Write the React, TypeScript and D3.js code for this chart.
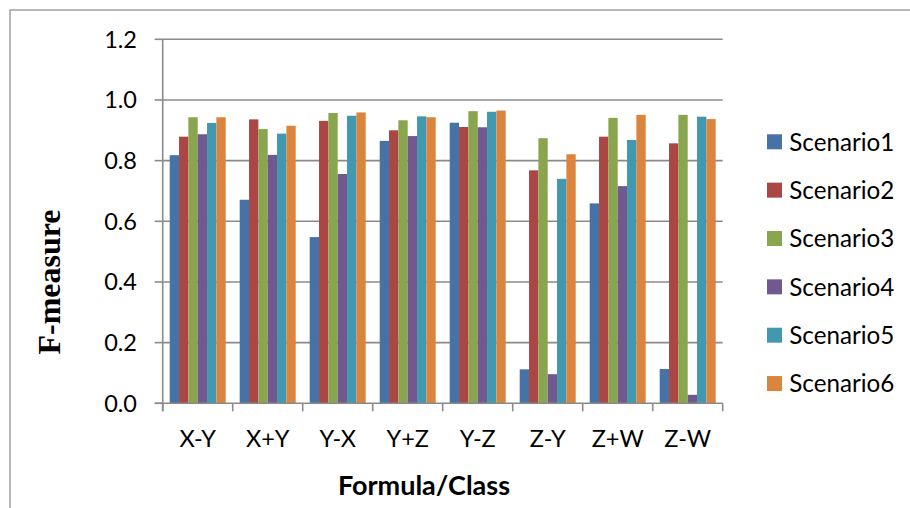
import React from "react";
import * as d3 from "d3";

const categories = ["X-Y", "X+Y", "Y-X", "Y+Z", "Y-Z", "Z-Y", "Z+W", "Z-W"];
const seriesNames = ["Scenario1", "Scenario2", "Scenario3", "Scenario4", "Scenario5", "Scenario6"];
const scenario1 = [0.818, 0.671, 0.548, 0.865, 0.925, 0.112, 0.659, 0.113];
const scenario2 = [0.879, 0.936, 0.931, 0.9, 0.911, 0.768, 0.879, 0.857];
const scenario3 = [0.943, 0.904, 0.957, 0.933, 0.963, 0.874, 0.941, 0.951];
const scenario4 = [0.887, 0.819, 0.756, 0.881, 0.91, 0.096, 0.716, 0.028];
const scenario5 = [0.924, 0.889, 0.948, 0.946, 0.961, 0.74, 0.868, 0.945];
const scenario6 = [0.943, 0.915, 0.959, 0.943, 0.965, 0.821, 0.951, 0.937];
const seriesValues = [scenario1, scenario2, scenario3, scenario4, scenario5, scenario6];
const colors = ["#4572A7", "#AA4643", "#89A54E", "#71588F", "#4198AF", "#DB843D"];
const yTicks = [0, 0.2, 0.4, 0.6, 0.8, 1.0, 1.2];

export default function App() {
  const W = 910, H = 508;
  const left = 162.7, right = 722.7, top = 39.3, bottom = 403.3;
  const x = d3.scaleBand<string>().domain(categories).range([left, right]).padding(0);
  const inner = d3.scaleBand<string>().domain(seriesNames).range([0, x.bandwidth()]).paddingInner(0).paddingOuter(0.75);
  const y = d3.scaleLinear().domain([0, 1.2]).range([bottom, top]);
  const font = "Lato, 'Open Sans', sans-serif";
  const grid = "#8a8a8a";

  return (
    <svg width={W} height={H} style={{ position: "absolute", left: 0, top: 0, background: "#fff" }}>
      <rect x={10} y={10} width={W + 20} height={H + 20} fill="#fff" stroke="#a0a0a0" strokeWidth={1.5} />
      {yTicks.filter((t) => t > 0).map((t) => (
        <line key={"g" + t} x1={left} x2={right} y1={y(t)} y2={y(t)} stroke={grid} strokeWidth={1.6} />
      ))}
      {categories.map((c, ci) =>
        seriesNames.map((s, si) => {
          const v = seriesValues[si][ci];
          return (
            <rect
              key={c + s}
              x={(x(c) as number) + (inner(s) as number)}
              y={y(v)}
              width={inner.bandwidth()}
              height={y(0) - y(v)}
              fill={colors[si]}
            />
          );
        })
      )}
      {/* axes */}
      <line x1={left} x2={left} y1={top} y2={bottom + 8} stroke={grid} strokeWidth={1.6} />
      <line x1={left - 8} x2={right} y1={bottom} y2={bottom} stroke={grid} strokeWidth={1.6} />
      {yTicks.map((t) => (
        <g key={"t" + t}>
          <line x1={left - 8} x2={left} y1={y(t)} y2={y(t)} stroke={grid} strokeWidth={1.6} />
          <text x={137} y={y(t)} dy="0.36em" textAnchor="end" fontFamily={font} fontSize={23.5} fill="#000">
            {d3.format(".1f")(t)}
          </text>
        </g>
      ))}
      {[...categories.map((c) => x(c) as number), right].map((px, i) => (
        <line key={"xt" + i} x1={px} x2={px} y1={bottom} y2={bottom + 8} stroke={grid} strokeWidth={1.6} />
      ))}
      {categories.map((c) => (
        <text key={"xl" + c} x={(x(c) as number) + x.bandwidth() / 2} y={447} textAnchor="middle" fontFamily={font} fontSize={23.5} fill="#000">
          {c}
        </text>
      ))}
      <text x={424} y={495} textAnchor="middle" fontFamily={font} fontSize={27} fontWeight="bold" fill="#000">
        Formula/Class
      </text>
      <text
        transform="translate(60,282) rotate(-90)"
        textAnchor="middle"
        fontFamily="'Liberation Serif', 'Times New Roman', serif"
        fontSize={32}
        fontWeight="bold"
        fill="#000"
      >
        F-measure
      </text>
      {seriesNames.map((s, i) => (
        <g key={"lg" + s} transform={`translate(767,${134.3 + i * 48.35})`}>
          <rect x={0} y={0} width={15} height={15} fill={colors[i]} />
          <text x={22.3} y={16.4} fontFamily={font} fontSize={24.2} fill="#000">
            {s}
          </text>
        </g>
      ))}
    </svg>
  );
}
